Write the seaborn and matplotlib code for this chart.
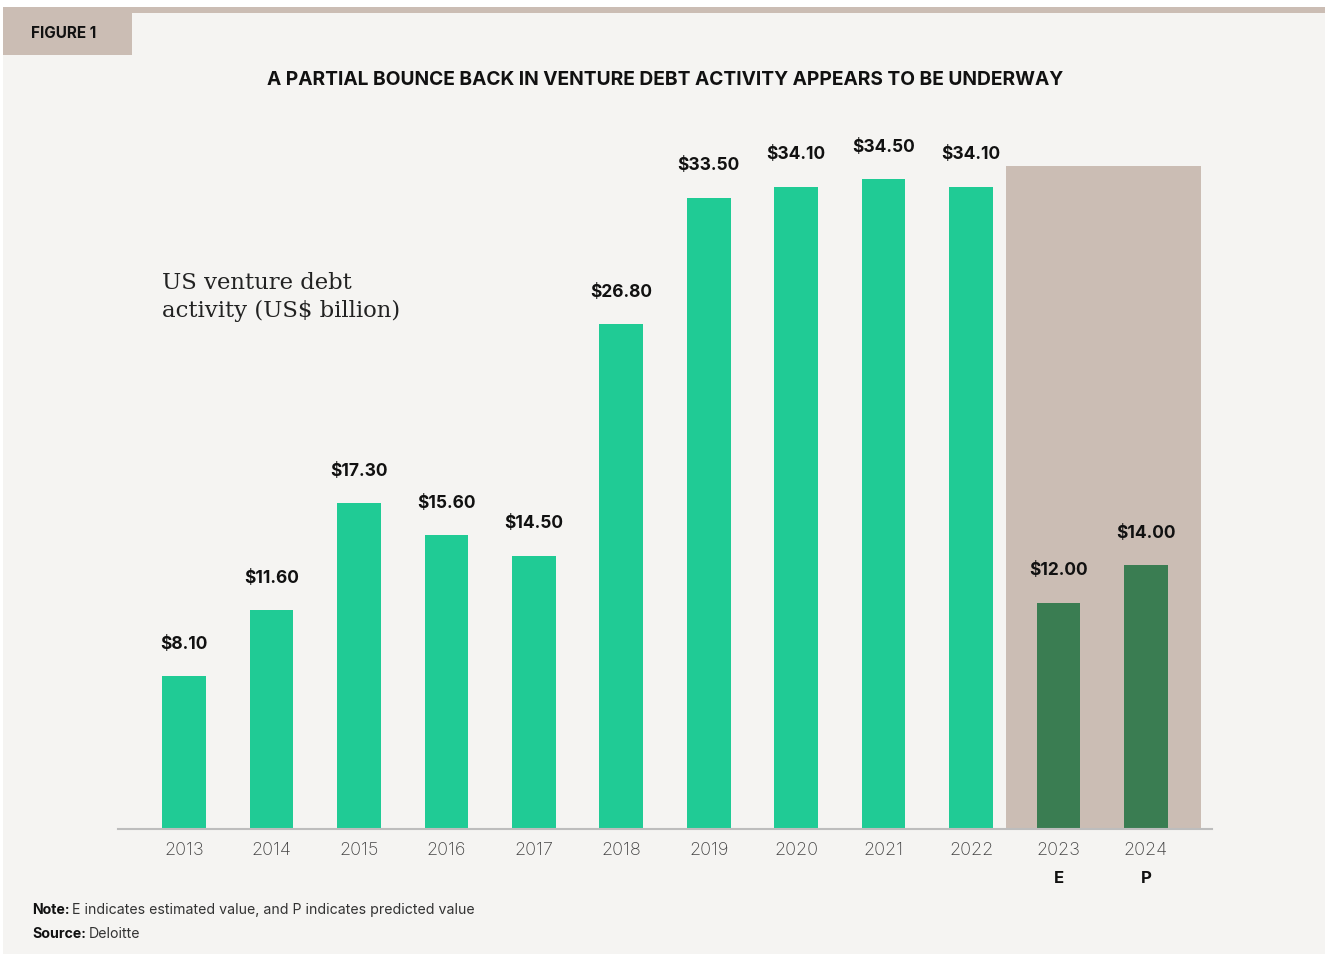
import matplotlib
matplotlib.use("Agg")
import matplotlib.pyplot as plt
from matplotlib.patches import Rectangle
import seaborn as sns
import pandas as pd

years = ["2013", "2014", "2015", "2016", "2017", "2018", "2019", "2020", "2021", "2022", "2023", "2024"]
values = [8.10, 11.60, 17.30, 15.60, 14.50, 26.80, 33.50, 34.10, 34.50, 34.10, 12.00, 14.00]
status = ["", "", "", "", "", "", "", "", "", "", "E", "P"]
n_actual = 10

title = "A PARTIAL BOUNCE BACK IN VENTURE DEBT ACTIVITY APPEARS TO BE UNDERWAY"
series_label = "US venture debt\nactivity (US$ billion)"

BG = "#F5F4F2"
TAN = "#CBBDB4"
GREEN = "#20CB95"
DARK = "#3A7D52"

sns.set_theme(style="white")
plt.rcParams["font.family"] = ["Inter", "DejaVu Sans"]

fig = plt.figure(figsize=(13.25, 9.56), dpi=100)
fig.patch.set_facecolor("white")
W, H = 1325, 956

def fx(px):
    return px / W

def fy(py):
    return 1 - py / H

# panel background, top band, figure tab
fig.patches.append(Rectangle((fx(3), fy(954)), fx(1322), (954 - 12) / H, transform=fig.transFigure, facecolor=BG, edgecolor="none", zorder=-5))
fig.patches.append(Rectangle((fx(3), fy(12.5)), fx(1322), 5.5 / H, transform=fig.transFigure, facecolor=TAN, edgecolor="none", zorder=-4))
fig.patches.append(Rectangle((fx(3), fy(54.5)), fx(129), 42 / H, transform=fig.transFigure, facecolor=TAN, edgecolor="none", zorder=-4))
fig.text(fx(31), fy(34), "FIGURE 1", fontsize=11, fontweight="bold", color="#111111", va="center", ha="left")

ymax = 36.0
ax = fig.add_axes([fx(118), fy(829), fx(1212 - 118), ymax * 18.84 / H])
ax.set_zorder(1)
ax.set_facecolor("none")

df = pd.DataFrame({"year": years, "value": values})
colors = [GREEN] * n_actual + [DARK] * (len(years) - n_actual)
sns.barplot(data=df, x="year", y="value", hue="year", palette=colors, legend=False,
            width=0.5, ax=ax, saturation=1, zorder=3, linewidth=0, edgecolor="none")

ax.add_patch(Rectangle((n_actual - 0.6, 0), (len(years) - 1 + 0.63) - (n_actual - 0.6), 35.2,
                       facecolor=TAN, edgecolor="none", zorder=1))

ax.set_xlim(-0.755, len(years) - 1 + 0.755)
ax.set_ylim(0, ymax)
for s in ["top", "right", "left"]:
    ax.spines[s].set_visible(False)
ax.spines["bottom"].set_color("#BDBDBD")
ax.spines["bottom"].set_linewidth(1.5)
ax.spines["bottom"].set_zorder(4)
ax.set_yticks([])
ax.set_xlabel("")
ax.set_ylabel("")
ax.tick_params(axis="x", length=0, pad=9.5, labelsize=13, labelcolor="#444444")
for lab in ax.get_xticklabels():
    lab.set_fontweight("light")

for i, (v, s) in enumerate(zip(values, status)):
    ax.annotate(f"${v:.2f}", (i, v), xytext=(0, 23), textcoords="offset points",
                ha="center", va="center", fontsize=12.5, fontweight="bold", color="#111111")
    if s:
        ax.annotate(s, (i, 0), xytext=(0, -35.5), textcoords="offset points",
                    ha="center", va="center", fontsize=12, fontweight="bold", color="#111111")

fig.text(fx(162), fy(297), series_label, fontsize=16.4, family=["DejaVu Serif"],
         color="#222222", ha="left", va="center", linespacing=1.4)

fig.text(fx(665), fy(80), title, fontsize=13.8, fontweight="bold", color="#111111", ha="center", va="center")

t1 = fig.text(fx(32), fy(910), "Note:", fontsize=10.2, fontweight="bold", color="#111111", ha="left", va="center")
t2 = fig.text(fx(32), fy(934), "Source:", fontsize=10.2, fontweight="bold", color="#111111", ha="left", va="center")
fig.canvas.draw()
r = fig.canvas.get_renderer()
b1 = t1.get_window_extent(r)
b2 = t2.get_window_extent(r)
fig.text((b1.x1 + 3) / W, fy(910), "E indicates estimated value, and P indicates predicted value", fontsize=10.2, color="#333333", ha="left", va="center")
fig.text((b2.x1 + 3) / W, fy(934), "Deloitte", fontsize=10.2, color="#333333", ha="left", va="center")

fig.savefig("out.png", dpi=100, facecolor=fig.get_facecolor())
